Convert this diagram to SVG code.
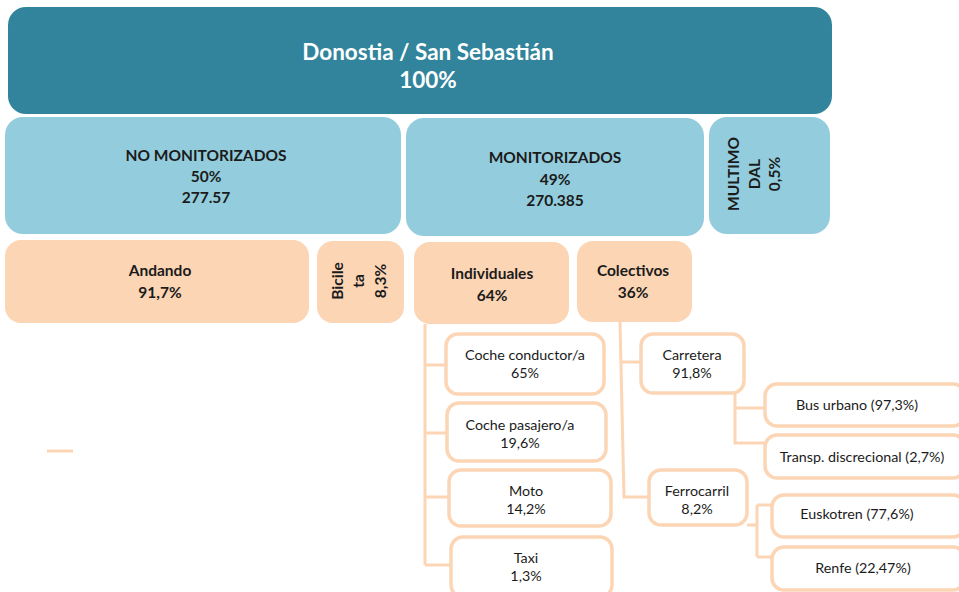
<svg xmlns="http://www.w3.org/2000/svg" width="959" height="592" viewBox="0 0 959 592">
<style>
text{font-family:Lato,"Open Sans","Liberation Sans",sans-serif;fill:#1b1b1b;text-anchor:middle}
.top{fill:#31849b}
.blue{fill:#93cddd}
.peach{fill:#fcd5b5}
.wbox{fill:#ffffff;stroke:#fcd5b5;stroke-width:3.5}
.b{font-weight:bold;font-size:15.5px}
.n{font-size:14.3px}
.w{fill:#ffffff;font-weight:bold;font-size:22.5px}
.c{fill:none;stroke:#fcd5b5;stroke-width:3}
</style>
<g id="connectors">
<path class="c" d="M425,324 V565 M425,365 H446 M425,433 H447 M425,497 H449 M425,565 H451"/>
<path class="c" d="M620,322 L624,497 H649 M621,362 H641"/>
<path class="c" d="M735,393 V443 H765 M735,408 H765"/>
<path class="c" d="M747,525 H757 M757,505 V557 M757,505 H772 M757,557 H772"/>
<path class="c" d="M47,451 H73" stroke-width="2"/>
</g>
<g id="root"><rect class="top" x="8" y="7" width="824" height="107" rx="18"/><text class="w" x="428" y="60">Donostia / San Sebastián</text><text class="w" x="428" y="88">100%</text></g>
<g id="no-monitorizados"><rect class="blue" x="5" y="117" width="396" height="117" rx="18"/><text class="b" x="206" y="161">NO MONITORIZADOS</text><text class="b" x="206" y="182">50%</text><text class="b" x="206" y="203">277.57</text></g>
<g id="monitorizados"><rect class="blue" x="406" y="118" width="298" height="118" rx="18"/><text class="b" x="555" y="163">MONITORIZADOS</text><text class="b" x="555" y="185">49%</text><text class="b" x="555" y="206">270.385</text></g>
<g id="multimodal"><rect class="blue" x="709" y="117" width="121" height="117" rx="18"/><text class="b" transform="translate(739,174) rotate(-90)">MULTIMO</text><text class="b" transform="translate(760,174) rotate(-90)">DAL</text><text class="b" transform="translate(780,174) rotate(-90)">0,5%</text></g>
<g id="andando"><rect class="peach" x="5" y="240" width="304" height="83" rx="16"/><text class="b" x="160" y="276">Andando</text><text class="b" x="160" y="298">91,7%</text></g>
<g id="bicicleta"><rect class="peach" x="317" y="241" width="87" height="82" rx="16"/><text class="b" transform="translate(343,281) rotate(-90)">Bicile</text><text class="b" transform="translate(364,281) rotate(-90)">ta</text><text class="b" transform="translate(386,281) rotate(-90)">8,3%</text></g>
<g id="individuales"><rect class="peach" x="414" y="242" width="155" height="82" rx="16"/><text class="b" x="492" y="279">Individuales</text><text class="b" x="492" y="301">64%</text></g>
<g id="colectivos"><rect class="peach" x="577" y="241" width="115" height="81" rx="16"/><text class="b" x="633" y="276">Colectivos</text><text class="b" x="633" y="298">36%</text></g>
<g id="coche-conductor"><rect class="wbox" x="446" y="334" width="158" height="60" rx="12"/><text class="n" x="525" y="360">Coche conductor/a</text><text class="n" x="525" y="378">65%</text></g>
<g id="coche-pasajero"><rect class="wbox" x="447" y="403" width="159" height="58" rx="12"/><text class="n" x="520" y="430">Coche pasajero/a</text><text class="n" x="520" y="448">19,6%</text></g>
<g id="moto"><rect class="wbox" x="449" y="470" width="162" height="56" rx="12"/><text class="n" x="526" y="496">Moto</text><text class="n" x="526" y="514">14,2%</text></g>
<g id="taxi"><rect class="wbox" x="451" y="537" width="161" height="60" rx="12"/><text class="n" x="526" y="563">Taxi</text><text class="n" x="526" y="581">1,3%</text></g>
<g id="carretera"><rect class="wbox" x="641" y="334" width="103" height="59" rx="12"/><text class="n" x="692" y="360">Carretera</text><text class="n" x="692" y="378">91,8%</text></g>
<g id="ferrocarril"><rect class="wbox" x="649" y="470" width="98" height="55" rx="12"/><text class="n" x="697" y="496">Ferrocarril</text><text class="n" x="697" y="514">8,2%</text></g>
<g id="bus-urbano"><rect class="wbox" x="765" y="384" width="200" height="42" rx="12"/><text class="n" x="857" y="410">Bus urbano (97,3%)</text></g>
<g id="transp-discrecional"><rect class="wbox" x="765" y="435" width="200" height="43" rx="12"/><text class="n" x="862" y="462">Transp. discrecional (2,7%)</text></g>
<g id="euskotren"><rect class="wbox" x="772" y="495" width="193" height="42" rx="12"/><text class="n" x="857" y="519">Euskotren (77,6%)</text></g>
<g id="renfe"><rect class="wbox" x="772" y="547" width="193" height="43" rx="12"/><text class="n" x="863" y="573">Renfe (22,47%)</text></g>
</svg>
